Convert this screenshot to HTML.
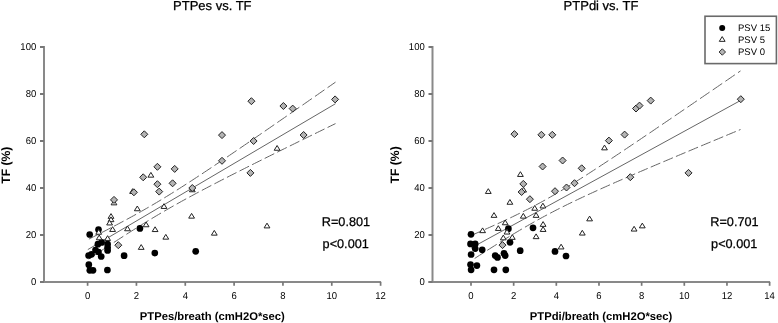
<!DOCTYPE html>
<html><head><meta charset="utf-8"><style>
html,body{margin:0;padding:0;background:#fff;}
svg{display:block;will-change:transform;}
text{font-family:"Liberation Sans", sans-serif;fill:#000000;text-rendering:geometricPrecision;}
.hv{stroke:#000;stroke-width:0.25px;}
</style></head><body>
<svg width="778" height="323" viewBox="0 0 778 323">
<rect width="778" height="323" fill="#fff"/>
<path d="M44 46V283" stroke="#898989" stroke-width="2" fill="none"/>
<path d="M40 282H381.1" stroke="#898989" stroke-width="2" fill="none"/>
<path d="M40 282H44" stroke="#777777" stroke-width="2"/>
<text transform="translate(36.2 285.4) scale(0.95 1)" text-anchor="end" font-size="10">0</text>
<path d="M40 235H44" stroke="#777777" stroke-width="2"/>
<text transform="translate(36.2 238.4) scale(0.95 1)" text-anchor="end" font-size="10">20</text>
<path d="M40 188H44" stroke="#777777" stroke-width="2"/>
<text transform="translate(36.2 191.4) scale(0.95 1)" text-anchor="end" font-size="10">40</text>
<path d="M40 141H44" stroke="#777777" stroke-width="2"/>
<text transform="translate(36.2 144.4) scale(0.95 1)" text-anchor="end" font-size="10">60</text>
<path d="M40 94H44" stroke="#777777" stroke-width="2"/>
<text transform="translate(36.2 97.4) scale(0.95 1)" text-anchor="end" font-size="10">80</text>
<path d="M40 47H44" stroke="#777777" stroke-width="2"/>
<text transform="translate(36.2 50.4) scale(0.95 1)" text-anchor="end" font-size="10">100</text>
<path d="M87.6 282V285.8" stroke="#777777" stroke-width="1.7"/>
<text transform="translate(87.6 298.8) scale(0.95 1)" text-anchor="middle" font-size="10">0</text>
<path d="M136.43 282V285.8" stroke="#777777" stroke-width="1.7"/>
<text transform="translate(136.43 298.8) scale(0.95 1)" text-anchor="middle" font-size="10">2</text>
<path d="M185.27 282V285.8" stroke="#777777" stroke-width="1.7"/>
<text transform="translate(185.27 298.8) scale(0.95 1)" text-anchor="middle" font-size="10">4</text>
<path d="M234.1 282V285.8" stroke="#777777" stroke-width="1.7"/>
<text transform="translate(234.1 298.8) scale(0.95 1)" text-anchor="middle" font-size="10">6</text>
<path d="M282.94 282V285.8" stroke="#777777" stroke-width="1.7"/>
<text transform="translate(282.94 298.8) scale(0.95 1)" text-anchor="middle" font-size="10">8</text>
<path d="M331.77 282V285.8" stroke="#777777" stroke-width="1.7"/>
<text transform="translate(331.77 298.8) scale(0.95 1)" text-anchor="middle" font-size="10">10</text>
<path d="M380.6 282V285.8" stroke="#777777" stroke-width="1.7"/>
<text transform="translate(380.6 298.8) scale(0.95 1)" text-anchor="middle" font-size="10">12</text>
<text class="hv" x="212.3" y="10.3" text-anchor="middle" font-size="13">PTPes vs. TF</text>
<text x="212.3" y="319.5" text-anchor="middle" font-size="11.25" font-weight="bold">PTPes/breath (cmH2O*sec)</text>
<text class="hv" x="321.8" y="226" font-size="12.7">R=0.801</text>
<text class="hv" x="322.6" y="248" font-size="12.7">p&lt;0.001</text>
<path d="M87.8 249.6L335.5 103.7" stroke="#666666" stroke-width="1" fill="none"/>
<path d="M88.92 239.08 L91.3 237.88 L93.67 236.68 L96.05 235.47 L98.42 234.26M101.48 232.7 L103.86 231.48 L106.23 230.25 L108.61 229.02 L110.98 227.78M114.04 226.18 L116.42 224.94 L118.79 223.68 L121.17 222.42 L123.54 221.15M126.6 219.5 L128.97 218.21 L131.35 216.91 L133.72 215.61 L136.1 214.29M139.16 212.59 L141.53 211.25 L143.91 209.9 L146.28 208.54 L148.66 207.18M151.72 205.4 L154.09 204 L156.47 202.6 L158.84 201.18 L161.22 199.76M164.28 197.9 L166.65 196.45 L169.03 194.99 L171.4 193.52 L173.78 192.04M176.84 190.12 L179.21 188.61 L181.59 187.1 L183.96 185.58 L186.34 184.06M189.39 182.08 L191.77 180.54 L194.14 178.99 L196.52 177.43 L198.89 175.87M201.95 173.86 L204.33 172.28 L206.7 170.7 L209.08 169.12 L211.45 167.54M214.51 165.49 L216.89 163.89 L219.26 162.29 L221.64 160.69 L224.01 159.09M227.07 157.02 L229.45 155.41 L231.82 153.79 L234.2 152.18 L236.57 150.56M239.63 148.47 L242 146.85 L244.38 145.22 L246.75 143.6 L249.13 141.97M252.19 139.87 L254.56 138.24 L256.94 136.61 L259.31 134.97 L261.69 133.34M264.75 131.23 L267.12 129.59 L269.5 127.96 L271.87 126.32 L274.25 124.67M277.31 122.56 L279.68 120.92 L282.06 119.27 L284.43 117.63 L286.81 115.98M289.87 113.86 L292.24 112.22 L294.62 110.57 L296.99 108.92 L299.37 107.28M302.43 105.15 L304.8 103.5 L307.18 101.85 L309.55 100.2 L311.93 98.55M314.98 96.42 L317.36 94.77 L319.73 93.12 L322.11 91.46 L324.48 89.81M327.54 87.68 L330.2 85.83 L332.85 83.99 L335.5 82.14" stroke="#666666" stroke-width="1" fill="none"/>
<path d="M88.66 259.12 L91.03 257.53 L93.41 255.95 L95.78 254.36 L98.16 252.78M101.23 250.74 L103.61 249.17 L105.98 247.6 L108.36 246.04 L110.73 244.48M113.81 242.47 L116.18 240.93 L118.56 239.38 L120.93 237.85 L123.31 236.32M126.38 234.34 L128.75 232.83 L131.13 231.32 L133.5 229.82 L135.88 228.33M138.96 226.4 L141.33 224.93 L143.71 223.46 L146.08 222.01 L148.46 220.56M151.53 218.7 L153.91 217.27 L156.28 215.85 L158.66 214.45 L161.03 213.05M164.1 211.25 L166.48 209.88 L168.85 208.51 L171.23 207.16 L173.6 205.81M176.68 204.08 L179.06 202.75 L181.43 201.43 L183.81 200.12 L186.18 198.82M189.25 197.15 L191.63 195.86 L194 194.58 L196.38 193.31 L198.75 192.05M201.83 190.42 L204.2 189.16 L206.58 187.92 L208.95 186.67 L211.33 185.43M214.41 183.84 L216.78 182.61 L219.16 181.39 L221.53 180.16 L223.91 178.95M226.98 177.38 L229.35 176.17 L231.73 174.96 L234.1 173.75 L236.48 172.55M239.56 171 L241.93 169.8 L244.31 168.61 L246.68 167.41 L249.06 166.22M252.13 164.68 L254.5 163.49 L256.88 162.31 L259.25 161.13 L261.63 159.94M264.7 158.41 L267.08 157.23 L269.45 156.06 L271.83 154.88 L274.2 153.7M277.28 152.18 L279.65 151.01 L282.03 149.83 L284.4 148.66 L286.78 147.49M289.86 145.98 L292.23 144.81 L294.61 143.64 L296.98 142.47 L299.36 141.3M302.43 139.79 L304.8 138.63 L307.18 137.46 L309.55 136.3 L311.93 135.13M315 133.62 L317.38 132.46 L319.75 131.3 L322.13 130.14 L324.5 128.98M327.58 127.47 L330.22 126.18 L332.86 124.89 L335.5 123.6" stroke="#666666" stroke-width="1" fill="none"/>
<circle cx="89.7" cy="234.5" r="3.35" fill="#000"/>
<circle cx="98.5" cy="229.5" r="3.35" fill="#000"/>
<circle cx="97.9" cy="244.2" r="3.35" fill="#000"/>
<circle cx="101.6" cy="242.4" r="3.35" fill="#000"/>
<circle cx="107.6" cy="244" r="3.35" fill="#000"/>
<circle cx="107.6" cy="247.5" r="3.35" fill="#000"/>
<circle cx="107.6" cy="250.5" r="3.35" fill="#000"/>
<circle cx="95.5" cy="250" r="3.35" fill="#000"/>
<circle cx="98.5" cy="252" r="3.35" fill="#000"/>
<circle cx="88.6" cy="255.5" r="3.35" fill="#000"/>
<circle cx="91.5" cy="254.3" r="3.35" fill="#000"/>
<circle cx="101.2" cy="256.5" r="3.35" fill="#000"/>
<circle cx="124.1" cy="255.7" r="3.35" fill="#000"/>
<circle cx="88.8" cy="264.7" r="3.35" fill="#000"/>
<circle cx="89.8" cy="270.3" r="3.35" fill="#000"/>
<circle cx="93" cy="270.3" r="3.35" fill="#000"/>
<circle cx="107.4" cy="270" r="3.35" fill="#000"/>
<circle cx="139.9" cy="228.4" r="3.35" fill="#000"/>
<circle cx="154.8" cy="253.1" r="3.35" fill="#000"/>
<circle cx="195.7" cy="251.3" r="3.35" fill="#000"/>
<path d="M98.7 229.5L101.6 234.25L95.8 234.25Z" fill="#fff" stroke="#222" stroke-width="1"/>
<path d="M99.2 235L102.1 239.75L96.3 239.75Z" fill="#fff" stroke="#222" stroke-width="1"/>
<path d="M107.6 235.7L110.5 240.45L104.7 240.45Z" fill="#fff" stroke="#222" stroke-width="1"/>
<path d="M112.6 226.7L115.5 231.45L109.7 231.45Z" fill="#fff" stroke="#222" stroke-width="1"/>
<path d="M111 213.6L113.9 218.35L108.1 218.35Z" fill="#fff" stroke="#222" stroke-width="1"/>
<path d="M111 216.9L113.9 221.65L108.1 221.65Z" fill="#fff" stroke="#222" stroke-width="1"/>
<path d="M109.6 220.2L112.5 224.95L106.7 224.95Z" fill="#fff" stroke="#222" stroke-width="1"/>
<path d="M114 200.1L116.9 204.85L111.1 204.85Z" fill="#fff" stroke="#222" stroke-width="1"/>
<path d="M137.3 206L140.2 210.75L134.4 210.75Z" fill="#fff" stroke="#222" stroke-width="1"/>
<path d="M164 203.7L166.9 208.45L161.1 208.45Z" fill="#fff" stroke="#222" stroke-width="1"/>
<path d="M146.1 222L149 226.75L143.2 226.75Z" fill="#fff" stroke="#222" stroke-width="1"/>
<path d="M127.5 226L130.4 230.75L124.6 230.75Z" fill="#fff" stroke="#222" stroke-width="1"/>
<path d="M155.1 226.8L158 231.55L152.2 231.55Z" fill="#fff" stroke="#222" stroke-width="1"/>
<path d="M165.8 234.4L168.7 239.15L162.9 239.15Z" fill="#fff" stroke="#222" stroke-width="1"/>
<path d="M141.2 244.6L144.1 249.35L138.3 249.35Z" fill="#fff" stroke="#222" stroke-width="1"/>
<path d="M191.6 213.4L194.5 218.15L188.7 218.15Z" fill="#fff" stroke="#222" stroke-width="1"/>
<path d="M214.3 230.4L217.2 235.15L211.4 235.15Z" fill="#fff" stroke="#222" stroke-width="1"/>
<path d="M267 223.15L269.9 227.9L264.1 227.9Z" fill="#fff" stroke="#222" stroke-width="1"/>
<path d="M277.1 145.5L280 150.25L274.2 150.25Z" fill="#fff" stroke="#222" stroke-width="1"/>
<path d="M150.9 172.4L153.8 177.15L148 177.15Z" fill="#fff" stroke="#222" stroke-width="1"/>
<path d="M192.3 187L195.2 191.75L189.4 191.75Z" fill="#fff" stroke="#222" stroke-width="1"/>
<path d="M132.6 188.7L135.5 193.45L129.7 193.45Z" fill="#fff" stroke="#222" stroke-width="1"/>
<path d="M118.3 241.7L121.8 245.2L118.3 248.7L114.8 245.2Z" fill="#b4b4b4" stroke="#222" stroke-width="1"/>
<path d="M114 196.4L117.5 199.9L114 203.4L110.5 199.9Z" fill="#b4b4b4" stroke="#222" stroke-width="1"/>
<path d="M133.9 188.8L137.4 192.3L133.9 195.8L130.4 192.3Z" fill="#b4b4b4" stroke="#222" stroke-width="1"/>
<path d="M143.2 173.8L146.7 177.3L143.2 180.8L139.7 177.3Z" fill="#b4b4b4" stroke="#222" stroke-width="1"/>
<path d="M157.4 163.3L160.9 166.8L157.4 170.3L153.9 166.8Z" fill="#b4b4b4" stroke="#222" stroke-width="1"/>
<path d="M174.7 165.4L178.2 168.9L174.7 172.4L171.2 168.9Z" fill="#b4b4b4" stroke="#222" stroke-width="1"/>
<path d="M157.4 180.7L160.9 184.2L157.4 187.7L153.9 184.2Z" fill="#b4b4b4" stroke="#222" stroke-width="1"/>
<path d="M172.6 179.8L176.1 183.3L172.6 186.8L169.1 183.3Z" fill="#b4b4b4" stroke="#222" stroke-width="1"/>
<path d="M159.2 188.1L162.7 191.6L159.2 195.1L155.7 191.6Z" fill="#b4b4b4" stroke="#222" stroke-width="1"/>
<path d="M144.3 130.8L147.8 134.3L144.3 137.8L140.8 134.3Z" fill="#b4b4b4" stroke="#222" stroke-width="1"/>
<path d="M192.3 184.5L195.8 188L192.3 191.5L188.8 188Z" fill="#b4b4b4" stroke="#222" stroke-width="1"/>
<path d="M222 131.6L225.5 135.1L222 138.6L218.5 135.1Z" fill="#b4b4b4" stroke="#222" stroke-width="1"/>
<path d="M222 157.3L225.5 160.8L222 164.3L218.5 160.8Z" fill="#b4b4b4" stroke="#222" stroke-width="1"/>
<path d="M250.4 169.4L253.9 172.9L250.4 176.4L246.9 172.9Z" fill="#b4b4b4" stroke="#222" stroke-width="1"/>
<path d="M253.6 137.5L257.1 141L253.6 144.5L250.1 141Z" fill="#b4b4b4" stroke="#222" stroke-width="1"/>
<path d="M251.4 97.7L254.9 101.2L251.4 104.7L247.9 101.2Z" fill="#b4b4b4" stroke="#222" stroke-width="1"/>
<path d="M283.4 102.5L286.9 106L283.4 109.5L279.9 106Z" fill="#b4b4b4" stroke="#222" stroke-width="1"/>
<path d="M292.7 105.1L296.2 108.6L292.7 112.1L289.2 108.6Z" fill="#b4b4b4" stroke="#222" stroke-width="1"/>
<path d="M303.6 131.5L307.1 135L303.6 138.5L300.1 135Z" fill="#b4b4b4" stroke="#222" stroke-width="1"/>
<path d="M335.1 95.9L338.6 99.4L335.1 102.9L331.6 99.4Z" fill="#b4b4b4" stroke="#222" stroke-width="1"/>
<path d="M432.5 46V283" stroke="#898989" stroke-width="2" fill="none"/>
<path d="M428.5 282H770.12" stroke="#898989" stroke-width="2" fill="none"/>
<path d="M428.5 282H432.5" stroke="#777777" stroke-width="2"/>
<text transform="translate(424.7 285.4) scale(0.95 1)" text-anchor="end" font-size="10">0</text>
<path d="M428.5 235H432.5" stroke="#777777" stroke-width="2"/>
<text transform="translate(424.7 238.4) scale(0.95 1)" text-anchor="end" font-size="10">20</text>
<path d="M428.5 188H432.5" stroke="#777777" stroke-width="2"/>
<text transform="translate(424.7 191.4) scale(0.95 1)" text-anchor="end" font-size="10">40</text>
<path d="M428.5 141H432.5" stroke="#777777" stroke-width="2"/>
<text transform="translate(424.7 144.4) scale(0.95 1)" text-anchor="end" font-size="10">60</text>
<path d="M428.5 94H432.5" stroke="#777777" stroke-width="2"/>
<text transform="translate(424.7 97.4) scale(0.95 1)" text-anchor="end" font-size="10">80</text>
<path d="M428.5 47H432.5" stroke="#777777" stroke-width="2"/>
<text transform="translate(424.7 50.4) scale(0.95 1)" text-anchor="end" font-size="10">100</text>
<path d="M471 282V285.8" stroke="#777777" stroke-width="1.7"/>
<text transform="translate(471 298.8) scale(0.95 1)" text-anchor="middle" font-size="10">0</text>
<path d="M513.66 282V285.8" stroke="#777777" stroke-width="1.7"/>
<text transform="translate(513.66 298.8) scale(0.95 1)" text-anchor="middle" font-size="10">2</text>
<path d="M556.32 282V285.8" stroke="#777777" stroke-width="1.7"/>
<text transform="translate(556.32 298.8) scale(0.95 1)" text-anchor="middle" font-size="10">4</text>
<path d="M598.98 282V285.8" stroke="#777777" stroke-width="1.7"/>
<text transform="translate(598.98 298.8) scale(0.95 1)" text-anchor="middle" font-size="10">6</text>
<path d="M641.64 282V285.8" stroke="#777777" stroke-width="1.7"/>
<text transform="translate(641.64 298.8) scale(0.95 1)" text-anchor="middle" font-size="10">8</text>
<path d="M684.3 282V285.8" stroke="#777777" stroke-width="1.7"/>
<text transform="translate(684.3 298.8) scale(0.95 1)" text-anchor="middle" font-size="10">10</text>
<path d="M726.96 282V285.8" stroke="#777777" stroke-width="1.7"/>
<text transform="translate(726.96 298.8) scale(0.95 1)" text-anchor="middle" font-size="10">12</text>
<path d="M769.62 282V285.8" stroke="#777777" stroke-width="1.7"/>
<text transform="translate(769.62 298.8) scale(0.95 1)" text-anchor="middle" font-size="10">14</text>
<text class="hv" x="601.06" y="10.3" text-anchor="middle" font-size="13">PTPdi vs. TF</text>
<text x="601.06" y="319.5" text-anchor="middle" font-size="11.25" font-weight="bold">PTPdi/breath (cmH2O*sec)</text>
<text class="hv" x="710.3" y="226" font-size="12.7">R=0.701</text>
<text class="hv" x="711.1" y="248" font-size="12.7">p&lt;0.001</text>
<path d="M471.3 247.9L740.5 100.5" stroke="#666666" stroke-width="1" fill="none"/>
<path d="M472.32 234.94 L474.7 233.91 L477.07 232.88 L479.45 231.84 L481.82 230.8M484.97 229.41 L487.35 228.36 L489.72 227.3 L492.1 226.23 L494.47 225.16M497.63 223.73 L500 222.65 L502.38 221.56 L504.75 220.46 L507.13 219.35M510.28 217.86 L512.65 216.73 L515.03 215.59 L517.4 214.43 L519.78 213.27M522.93 211.7 L525.31 210.51 L527.68 209.3 L530.06 208.08 L532.43 206.84M535.58 205.18 L537.96 203.91 L540.33 202.62 L542.71 201.32 L545.08 200M548.23 198.23 L550.61 196.87 L552.98 195.51 L555.36 194.12 L557.73 192.73M560.89 190.85 L563.26 189.42 L565.64 187.98 L568.01 186.53 L570.39 185.07M573.54 183.12 L575.91 181.63 L578.29 180.14 L580.66 178.64 L583.04 177.13M586.19 175.11 L588.57 173.58 L590.94 172.05 L593.32 170.51 L595.69 168.97M598.84 166.91 L601.22 165.35 L603.59 163.79 L605.97 162.23 L608.34 160.66M611.49 158.58 L613.87 157 L616.24 155.42 L618.62 153.84 L620.99 152.25M624.15 150.15 L626.52 148.56 L628.9 146.96 L631.27 145.37 L633.65 143.77M636.8 141.65 L639.17 140.05 L641.55 138.45 L643.92 136.84 L646.3 135.24M649.45 133.11 L651.83 131.5 L654.2 129.89 L656.58 128.28 L658.95 126.67M662.1 124.53 L664.48 122.91 L666.85 121.3 L669.23 119.68 L671.6 118.07M674.75 115.92 L677.13 114.3 L679.5 112.68 L681.88 111.06 L684.25 109.44M687.41 107.29 L689.78 105.67 L692.16 104.04 L694.53 102.42 L696.91 100.8M700.06 98.64 L702.43 97.02 L704.81 95.39 L707.18 93.77 L709.56 92.14M712.71 89.98 L715.09 88.36 L717.46 86.73 L719.84 85.1 L722.21 83.47M725.36 81.31 L727.74 79.68 L730.11 78.05 L732.49 76.43 L734.86 74.8M738.01 72.63 L740.5 70.93" stroke="#666666" stroke-width="1" fill="none"/>
<path d="M474.66 258.46 L477.04 256.92 L479.41 255.38 L481.79 253.85 L484.16 252.32M487.24 250.35 L489.62 248.84 L491.99 247.33 L494.37 245.82 L496.74 244.33M499.82 242.4 L502.2 240.92 L504.57 239.45 L506.95 237.98 L509.32 236.53M512.4 234.65 L514.78 233.22 L517.15 231.8 L519.53 230.38 L521.9 228.98M524.98 227.18 L527.36 225.81 L529.73 224.44 L532.11 223.09 L534.48 221.75M537.56 220.04 L539.94 218.73 L542.31 217.43 L544.69 216.15 L547.06 214.88M550.14 213.25 L552.52 212.01 L554.89 210.78 L557.27 209.56 L559.64 208.36M562.72 206.81 L565.1 205.63 L567.47 204.46 L569.85 203.3 L572.22 202.15M575.3 200.67 L577.68 199.54 L580.05 198.41 L582.43 197.3 L584.8 196.19M587.88 194.76 L590.26 193.67 L592.63 192.58 L595.01 191.5 L597.38 190.42M600.46 189.03 L602.84 187.96 L605.21 186.9 L607.59 185.84 L609.96 184.79M613.04 183.43 L615.42 182.38 L617.79 181.34 L620.17 180.3 L622.54 179.27M625.62 177.93 L628 176.9 L630.37 175.87 L632.75 174.84 L635.12 173.82M638.2 172.49 L640.58 171.47 L642.95 170.46 L645.33 169.44 L647.7 168.43M650.78 167.11 L653.16 166.1 L655.53 165.09 L657.91 164.09 L660.28 163.08M663.36 161.77 L665.74 160.77 L668.11 159.77 L670.49 158.77 L672.86 157.76M675.94 156.47 L678.32 155.47 L680.69 154.47 L683.07 153.47 L685.44 152.48M688.52 151.18 L690.9 150.19 L693.27 149.2 L695.65 148.2 L698.02 147.21M701.1 145.92 L703.48 144.93 L705.85 143.94 L708.23 142.95 L710.6 141.96M713.68 140.67 L716.06 139.69 L718.43 138.7 L720.81 137.71 L723.18 136.72M726.26 135.44 L728.64 134.45 L731.01 133.47 L733.39 132.48 L735.76 131.5M738.84 130.22 L740.5 129.53" stroke="#666666" stroke-width="1" fill="none"/>
<circle cx="471" cy="234.3" r="3.35" fill="#000"/>
<circle cx="470.5" cy="243.9" r="3.35" fill="#000"/>
<circle cx="475.2" cy="243.9" r="3.35" fill="#000"/>
<circle cx="475.2" cy="248.6" r="3.35" fill="#000"/>
<circle cx="471.1" cy="254.5" r="3.35" fill="#000"/>
<circle cx="482.2" cy="249.8" r="3.35" fill="#000"/>
<circle cx="470.5" cy="264.5" r="3.35" fill="#000"/>
<circle cx="476.9" cy="265.6" r="3.35" fill="#000"/>
<circle cx="471.1" cy="269.8" r="3.35" fill="#000"/>
<circle cx="495.2" cy="255.6" r="3.35" fill="#000"/>
<circle cx="497.5" cy="257.4" r="3.35" fill="#000"/>
<circle cx="504" cy="253.3" r="3.35" fill="#000"/>
<circle cx="505.2" cy="255.6" r="3.35" fill="#000"/>
<circle cx="494" cy="269.8" r="3.35" fill="#000"/>
<circle cx="505.8" cy="269.8" r="3.35" fill="#000"/>
<circle cx="508.4" cy="228.7" r="3.35" fill="#000"/>
<circle cx="510" cy="242.3" r="3.35" fill="#000"/>
<circle cx="520.2" cy="250.7" r="3.35" fill="#000"/>
<circle cx="533" cy="227.8" r="3.35" fill="#000"/>
<circle cx="555" cy="251.4" r="3.35" fill="#000"/>
<circle cx="566" cy="256" r="3.35" fill="#000"/>
<path d="M482.6 227.9L485.5 232.65L479.7 232.65Z" fill="#fff" stroke="#222" stroke-width="1"/>
<path d="M498.3 225.7L501.2 230.45L495.4 230.45Z" fill="#fff" stroke="#222" stroke-width="1"/>
<path d="M507 229.3L509.9 234.05L504.1 234.05Z" fill="#fff" stroke="#222" stroke-width="1"/>
<path d="M503.3 235.1L506.2 239.85L500.4 239.85Z" fill="#fff" stroke="#222" stroke-width="1"/>
<path d="M512.3 234.6L515.2 239.35L509.4 239.35Z" fill="#fff" stroke="#222" stroke-width="1"/>
<path d="M505.2 220L508.1 224.75L502.3 224.75Z" fill="#fff" stroke="#222" stroke-width="1"/>
<path d="M494 212.6L496.9 217.35L491.1 217.35Z" fill="#fff" stroke="#222" stroke-width="1"/>
<path d="M509.9 199.5L512.8 204.25L507 204.25Z" fill="#fff" stroke="#222" stroke-width="1"/>
<path d="M523.3 213.4L526.2 218.15L520.4 218.15Z" fill="#fff" stroke="#222" stroke-width="1"/>
<path d="M488.3 188.7L491.2 193.45L485.4 193.45Z" fill="#fff" stroke="#222" stroke-width="1"/>
<path d="M520.4 171.7L523.3 176.45L517.5 176.45Z" fill="#fff" stroke="#222" stroke-width="1"/>
<path d="M523.6 187.3L526.5 192.05L520.7 192.05Z" fill="#fff" stroke="#222" stroke-width="1"/>
<path d="M534.7 205.5L537.6 210.25L531.8 210.25Z" fill="#fff" stroke="#222" stroke-width="1"/>
<path d="M542.9 203.2L545.8 207.95L540 207.95Z" fill="#fff" stroke="#222" stroke-width="1"/>
<path d="M536.1 212.6L539 217.35L533.2 217.35Z" fill="#fff" stroke="#222" stroke-width="1"/>
<path d="M543.1 221.6L546 226.35L540.2 226.35Z" fill="#fff" stroke="#222" stroke-width="1"/>
<path d="M543.1 226.7L546 231.45L540.2 231.45Z" fill="#fff" stroke="#222" stroke-width="1"/>
<path d="M536.1 233.9L539 238.65L533.2 238.65Z" fill="#fff" stroke="#222" stroke-width="1"/>
<path d="M561.1 244.2L564 248.95L558.2 248.95Z" fill="#fff" stroke="#222" stroke-width="1"/>
<path d="M582.3 230.3L585.2 235.05L579.4 235.05Z" fill="#fff" stroke="#222" stroke-width="1"/>
<path d="M589.6 216.1L592.5 220.85L586.7 220.85Z" fill="#fff" stroke="#222" stroke-width="1"/>
<path d="M604.5 145.1L607.4 149.85L601.6 149.85Z" fill="#fff" stroke="#222" stroke-width="1"/>
<path d="M634.1 226.3L637 231.05L631.2 231.05Z" fill="#fff" stroke="#222" stroke-width="1"/>
<path d="M642.3 223.1L645.2 227.85L639.4 227.85Z" fill="#fff" stroke="#222" stroke-width="1"/>
<path d="M502.5 241.6L506 245.1L502.5 248.6L499 245.1Z" fill="#b4b4b4" stroke="#222" stroke-width="1"/>
<path d="M514.4 130.6L517.9 134.1L514.4 137.6L510.9 134.1Z" fill="#b4b4b4" stroke="#222" stroke-width="1"/>
<path d="M541.4 131.3L544.9 134.8L541.4 138.3L537.9 134.8Z" fill="#b4b4b4" stroke="#222" stroke-width="1"/>
<path d="M552.3 131.3L555.8 134.8L552.3 138.3L548.8 134.8Z" fill="#b4b4b4" stroke="#222" stroke-width="1"/>
<path d="M542.6 163L546.1 166.5L542.6 170L539.1 166.5Z" fill="#b4b4b4" stroke="#222" stroke-width="1"/>
<path d="M562.6 157L566.1 160.5L562.6 164L559.1 160.5Z" fill="#b4b4b4" stroke="#222" stroke-width="1"/>
<path d="M581.7 164.8L585.2 168.3L581.7 171.8L578.2 168.3Z" fill="#b4b4b4" stroke="#222" stroke-width="1"/>
<path d="M523.3 180.4L526.8 183.9L523.3 187.4L519.8 183.9Z" fill="#b4b4b4" stroke="#222" stroke-width="1"/>
<path d="M521.6 188.5L525.1 192L521.6 195.5L518.1 192Z" fill="#b4b4b4" stroke="#222" stroke-width="1"/>
<path d="M529.9 195.7L533.4 199.2L529.9 202.7L526.4 199.2Z" fill="#b4b4b4" stroke="#222" stroke-width="1"/>
<path d="M555 187.7L558.5 191.2L555 194.7L551.5 191.2Z" fill="#b4b4b4" stroke="#222" stroke-width="1"/>
<path d="M566.5 184L570 187.5L566.5 191L563 187.5Z" fill="#b4b4b4" stroke="#222" stroke-width="1"/>
<path d="M574.5 179.7L578 183.2L574.5 186.7L571 183.2Z" fill="#b4b4b4" stroke="#222" stroke-width="1"/>
<path d="M608.9 137.1L612.4 140.6L608.9 144.1L605.4 140.6Z" fill="#b4b4b4" stroke="#222" stroke-width="1"/>
<path d="M624.6 131.1L628.1 134.6L624.6 138.1L621.1 134.6Z" fill="#b4b4b4" stroke="#222" stroke-width="1"/>
<path d="M630.3 173.7L633.8 177.2L630.3 180.7L626.8 177.2Z" fill="#b4b4b4" stroke="#222" stroke-width="1"/>
<path d="M636 105L639.5 108.5L636 112L632.5 108.5Z" fill="#b4b4b4" stroke="#222" stroke-width="1"/>
<path d="M639.5 102.1L643 105.6L639.5 109.1L636 105.6Z" fill="#b4b4b4" stroke="#222" stroke-width="1"/>
<path d="M650.7 97.1L654.2 100.6L650.7 104.1L647.2 100.6Z" fill="#b4b4b4" stroke="#222" stroke-width="1"/>
<path d="M688.5 169.4L692 172.9L688.5 176.4L685 172.9Z" fill="#b4b4b4" stroke="#222" stroke-width="1"/>
<path d="M740.8 95.7L744.3 99.2L740.8 102.7L737.3 99.2Z" fill="#b4b4b4" stroke="#222" stroke-width="1"/>
<rect x="705" y="16.25" width="71.4" height="47.35" fill="#fff" stroke="#6a6a6a" stroke-width="1.6"/>
<circle cx="722.2" cy="27.9" r="3.0" fill="#000"/>
<path d="M722.2 36.6L725.1 41.35L719.3 41.35Z" fill="#fff" stroke="#222" stroke-width="1"/>
<path d="M722.3 48.5L725.8 52L722.3 55.5L718.8 52Z" fill="#b4b4b4" stroke="#222" stroke-width="1" transform="translate(722.3 52.0) scale(0.92) translate(-722.3 -52.0)"/>
<text x="738" y="31.1" font-size="9.5">PSV 15</text>
<text x="738" y="43" font-size="9.5">PSV 5</text>
<text x="738" y="55" font-size="9.5">PSV 0</text>
<text transform="translate(10.4 165.2) rotate(-90)" text-anchor="middle" font-size="12.2" font-weight="bold">TF (%)</text>
<text transform="translate(398.9 164.9) rotate(-90)" text-anchor="middle" font-size="12.2" font-weight="bold">TF (%)</text>
</svg>
</body></html>
